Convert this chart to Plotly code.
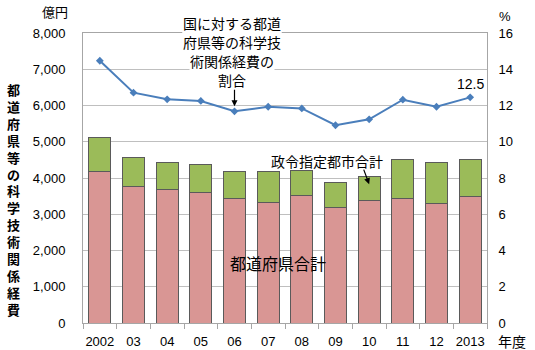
import plotly.graph_objects as go

years = ["2002", "03", "04", "05", "06", "07", "08", "09", "10", "11", "12", "2013"]
prefectures = [4170, 3760, 3670, 3600, 3440, 3330, 3510, 3190, 3370, 3440, 3290, 3480]
totals = [5130, 4570, 4440, 4380, 4170, 4190, 4220, 3880, 4040, 4520, 4420, 4500]
cities = [t - p for t, p in zip(totals, prefectures)]
ratio = [14.47, 12.71, 12.34, 12.25, 11.68, 11.93, 11.84, 10.91, 11.24, 12.32, 11.93, 12.45]

W, H = 535, 350
L, R, T, B = 83, 48, 33, 27
pw, ph = W - L - R, H - T - B

def px(x):
    return (x - L) / pw

def py(y):
    return (H - B - y) / ph

JP = "Noto Sans CJK JP"
NUM = "Liberation Sans, Arial"

xi = list(range(len(years)))

fig = go.Figure()
fig.add_trace(go.Bar(x=xi, y=prefectures, name="都道府県合計", width=0.65,
                     marker=dict(color="#d99694", line=dict(color="#5a5a5a", width=1))))
fig.add_trace(go.Bar(x=xi, y=cities, name="政令指定都市合計", width=0.65,
                     marker=dict(color="#9bbb59", line=dict(color="#5a5a5a", width=1))))
fig.add_trace(go.Scatter(x=xi, y=ratio, yaxis="y2", mode="lines+markers",
                         line=dict(color="#4a7ebb", width=2),
                         marker=dict(symbol="diamond", size=6, color="#4a7ebb")))

ann = []
# left title (vertical)
title = "都道府県等の科学技術関係経費"
ann.append(dict(xref="paper", yref="paper", x=px(13), y=py(199),
                text="<b>" + "<br>".join(title) + "</b>",
                showarrow=False, font=dict(family=JP, size=13, color="#000"),
                xanchor="center", yanchor="middle"))
ann.append(dict(xref="paper", yref="paper", x=px(55), y=py(12), text="億円", showarrow=False,
                font=dict(family=JP, size=13, color="#000"), xanchor="center", yanchor="middle"))
ann.append(dict(xref="paper", yref="paper", x=px(505), y=py(16), text="%", showarrow=False,
                font=dict(family=NUM, size=13, color="#000"), xanchor="center", yanchor="middle"))
ann.append(dict(xref="paper", yref="paper", x=px(512), y=py(341), text="年度", showarrow=False,
                font=dict(family=JP, size=14, color="#000"), xanchor="center", yanchor="middle"))
# ratio annotation (one line per annotation for exact spacing)
lines = ["国に対する都道", "府県等の科学技", "術関係経費の", "割合"]
line_y = [22.7, 42.3, 61, 80]
for t, yy in zip(lines, line_y):
    ann.append(dict(xref="paper", yref="paper", x=px(232), y=py(yy), text=t,
                    showarrow=False, font=dict(family=JP, size=14, color="#000"),
                    xanchor="center", yanchor="middle", bgcolor="white", borderpad=0))
ann.append(dict(x=4, y=ratio[4], xref="x", yref="y2", text="", showarrow=True,
                ax=0, ay=-23, arrowhead=2, arrowsize=1, arrowwidth=1.2, arrowcolor="#000",
                standoff=5))
# city annotation
ann.append(dict(xref="paper", yref="paper", x=px(327), y=py(161), text="政令指定都市合計",
                showarrow=False, font=dict(family=JP, size=14, color="#000"),
                xanchor="center", yanchor="middle"))
ann.append(dict(x=8, y=3830, xref="x", yref="y", text="", showarrow=True,
                ax=-6, ay=-16, arrowhead=2, arrowsize=1, arrowwidth=1.2, arrowcolor="#000"))
# pref annotation
ann.append(dict(xref="paper", yref="paper", x=px(278), y=py(263), text="都道府県合計",
                showarrow=False, font=dict(family=JP, size=16, color="#000"),
                xanchor="center", yanchor="middle"))
# 12.5 label
ann.append(dict(x=11, y=ratio[-1], xref="x", yref="y2", text="12.5", showarrow=False,
                yshift=13, font=dict(family=NUM, size=14, color="#000")))

fig.update_layout(
    width=W, height=H, margin=dict(l=L, r=R, t=T, b=B, autoexpand=False),
    paper_bgcolor="white", plot_bgcolor="white",
    barmode="stack", showlegend=False,
    font=dict(family=NUM, size=13, color="#000"),
    xaxis=dict(range=[-0.5, len(years) - 0.5], tickmode="array", tickvals=xi, ticktext=years,
               showline=True, linecolor="#a6a6a6", mirror=True, ticks="", automargin=False,
               showgrid=False, zeroline=False, tickfont=dict(family=NUM, size=13),
               ticklabelstandoff=6,
               minor=dict(tickmode="array", tickvals=[i - 0.5 for i in range(len(years) + 1)],
                          ticks="outside", ticklen=5, tickcolor="#a6a6a6", showgrid=False)),
    yaxis=dict(range=[0, 8000], dtick=1000, tickformat=",", showgrid=True, automargin=False,
               gridcolor="#bfbfbf", gridwidth=1, showline=True, linecolor="#a6a6a6",
               ticks="", ticklabelstandoff=14, tickfont=dict(family=NUM, size=13),
               zeroline=False),
    yaxis2=dict(range=[0, 16], dtick=2, overlaying="y", side="right", showgrid=False,
                showline=True, linecolor="#a6a6a6", ticks="", ticklabelstandoff=8,
                automargin=False, tickfont=dict(family=NUM, size=13), zeroline=False),
    annotations=ann,
)

fig.write_html("out.html")
